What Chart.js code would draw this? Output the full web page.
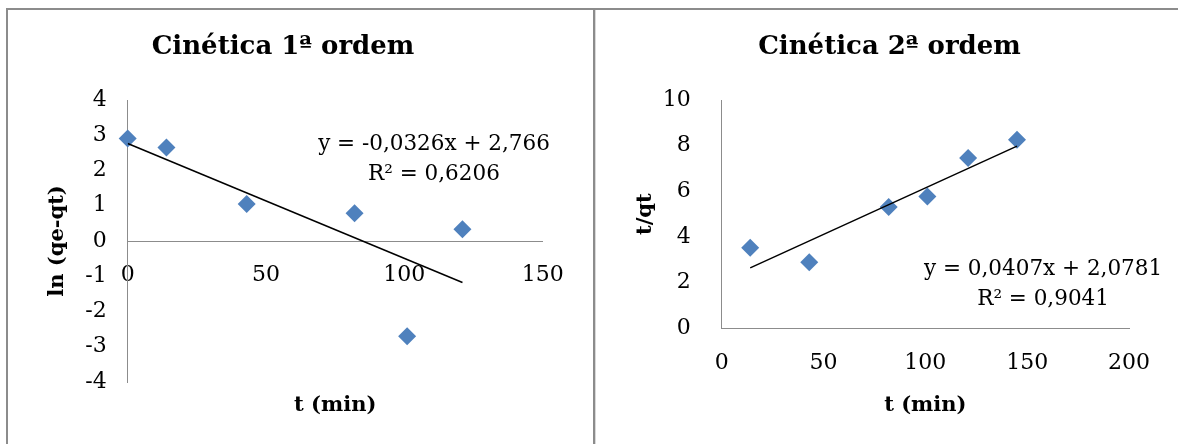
<!DOCTYPE html>
<html lang="pt">
<head>
<meta charset="utf-8">
<title>Cinética de adsorção</title>
<script src="https://cdn.jsdelivr.net/npm/chart.js@4.4.1/dist/chart.umd.min.js"></script>
<style>
  html, body { margin: 0; padding: 0; background: #fff; }
  body { width: 1178px; height: 444px; position: relative; overflow: hidden; }
  canvas { position: absolute; top: 0; }
  #c1 { left: 0; }
  #c2 { left: 601px; }
  .rule { position: absolute; background: #8c8c8c; }
  .rule.light { background: #d9d9d9; }
</style>
</head>
<body>
<canvas id="c1" width="566" height="444"></canvas>
<canvas id="c2" width="577" height="444"></canvas>
<div class="rule" style="left:6px; top:8px; width:1172px; height:2px;"></div>
<div class="rule" style="left:6px; top:8px; width:2px; height:436px;"></div>
<div class="rule" style="left:593px; top:8px; width:2px; height:436px;"></div>
<div class="rule light" style="left:595px; top:10px; width:1px; height:434px;"></div>
<script>
// Pseudo-primeira ordem: ln(qe - qt) versus t
const tempo1 = [0, 14, 43, 82, 101, 121];
const lnQeQt = [2.91, 2.65, 1.05, 0.79, -2.70, 0.33];
const ajuste1 = { inclinacao: -0.0326, intercepto: 2.766, r2: '0,6206' };
const eixoX1 = { min: 0, max: 150, passo: 50 };
const eixoY1 = { min: -4, max: 4, passo: 1 };

// Pseudo-segunda ordem: t/qt versus t
const tempo2 = [14, 43, 82, 101, 121, 145];
const tSobreQt = [3.53, 2.89, 5.31, 5.77, 7.46, 8.26];
const ajuste2 = { inclinacao: 0.0407, intercepto: 2.0781, r2: '0,9041' };
const eixoX2 = { min: 0, max: 200, passo: 50 };
const eixoY2 = { min: 0, max: 10, passo: 2 };

const SERIF = "'DejaVu Serif', 'Liberation Serif', serif";
const AZUL = '#4f81bd';
const CINZA = '#8c8c8c';

function pontos(xs, ys) { return xs.map((x, i) => ({ x, y: ys[i] })); }

function linhaTendencia(xs, aj) {
  const a = Math.min(...xs), b = Math.max(...xs);
  return [a, b].map(x => ({ x, y: aj.inclinacao * x + aj.intercepto }));
}

function num(v, casas) { return v.toFixed(casas).replace('.', ','); }

function textoEquacao(aj, casas) {
  const sinal = aj.intercepto < 0 ? '-' : '+';
  return ['y = ' + num(aj.inclinacao, 4) + 'x ' + sinal + ' ' + num(Math.abs(aj.intercepto), casas),
          'R² = ' + aj.r2];
}

// Writes the regression equation, anchored to a data position
const rotuloEquacao = {
  id: 'rotuloEquacao',
  afterDatasetsDraw(chart, args, opts) {
    const { ctx, scales } = chart;
    const x = scales.x.getPixelForValue(opts.x);
    const y = scales.y.getPixelForValue(opts.y);
    ctx.save();
    ctx.font = '21.5px ' + SERIF;
    ctx.fillStyle = '#000';
    ctx.textAlign = 'center';
    ctx.textBaseline = 'alphabetic';
    opts.linhas.forEach((t, i) => ctx.fillText(t, x, y + i * 30));
    ctx.restore();
  }
};

function dadosGrafico(xs, ys, aj) {
  return {
    datasets: [
      {
        type: 'line',
        data: linhaTendencia(xs, aj),
        borderColor: '#000',
        borderWidth: 1.5,
        pointRadius: 0,
        fill: false,
        order: 1
      },
      {
        type: 'scatter',
        data: pontos(xs, ys),
        pointStyle: 'rectRot',
        pointRadius: 9,
        pointHoverRadius: 9,
        backgroundColor: AZUL,
        borderColor: AZUL,
        borderWidth: 0,
        clip: false,
        order: 2
      }
    ]
  };
}

const fonteTicks = { family: SERIF, size: 22 };
const fonteTitulo = { family: SERIF, size: 21, weight: 'bold' };
const fonteGrafico = { family: SERIF, size: 26, weight: 'bold' };

// Empty right-hand box that leaves a margin beside the plot area
function margemDireita(largura) {
  return {
    type: 'linear',
    axis: 'y',
    position: 'right',
    display: true,
    ticks: { display: false },
    grid: { display: false, drawTicks: false },
    border: { display: false },
    afterFit(s) { s.width = largura; s.paddingTop = 0; s.paddingBottom = 0; }
  };
}

function semFolga(s) { s.paddingLeft = 0; s.paddingRight = 0; }

// Left chart: x axis crosses at y = 0
new Chart(document.getElementById('c1'), {
  type: 'scatter',
  data: dadosGrafico(tempo1, lnQeQt, ajuste1),
  plugins: [rotuloEquacao],
  options: {
    responsive: false,
    animation: false,
    events: [],
    layout: { padding: 0 },
    plugins: {
      legend: { display: false },
      tooltip: { enabled: false },
      title: {
        display: true,
        text: 'Cinética 1ª ordem',
        color: '#000',
        font: fonteGrafico,
        padding: { top: 31.4, bottom: 37.4 }
      },
      rotuloEquacao: { x: 110.7, y: 2.58, linhas: textoEquacao(ajuste1, 3) }
    },
    scales: {
      x: {
        type: 'linear',
        position: { y: 0 },
        min: eixoX1.min, max: eixoX1.max,
        ticks: { stepSize: eixoX1.passo, color: '#000', font: fonteTicks, padding: 21, maxRotation: 0 },
        grid: { display: false, drawTicks: false },
        border: { display: true, color: CINZA, width: 1 },
        afterFit(s) { s.height = 0; semFolga(s); }
      },
      xt: {
        type: 'linear',
        axis: 'x',
        position: 'bottom',
        min: eixoX1.min, max: eixoX1.max,
        ticks: { display: false },
        grid: { display: false, drawTicks: false },
        border: { display: false },
        title: { display: true, text: 't (min)', color: '#000', font: fonteTitulo, padding: { top: 0, bottom: 26 } },
        afterFit(s) { s.height = 62; semFolga(s); }
      },
      y: {
        type: 'linear',
        position: 'left',
        min: eixoY1.min, max: eixoY1.max,
        ticks: { stepSize: eixoY1.passo, color: '#000', font: fonteTicks, padding: 21 },
        grid: { display: false, drawTicks: false },
        border: { display: true, color: CINZA, width: 1 },
        title: { display: true, text: 'ln (qe-qt)', color: '#000', font: fonteTitulo, padding: { top: 45.4, bottom: 0 } },
        afterFit(s) { s.width = 127.7; }
      },
      margem: margemDireita(23.3)
    }
  }
});

// Right chart
new Chart(document.getElementById('c2'), {
  type: 'scatter',
  data: dadosGrafico(tempo2, tSobreQt, ajuste2),
  plugins: [rotuloEquacao],
  options: {
    responsive: false,
    animation: false,
    events: [],
    layout: { padding: 0 },
    plugins: {
      legend: { display: false },
      tooltip: { enabled: false },
      title: {
        display: true,
        text: 'Cinética 2ª ordem',
        color: '#000',
        font: fonteGrafico,
        padding: { top: 31.4, bottom: 37.4 }
      },
      rotuloEquacao: { x: 157.8, y: 2.34, linhas: textoEquacao(ajuste2, 4) }
    },
    scales: {
      x: {
        type: 'linear',
        position: 'bottom',
        min: eixoX2.min, max: eixoX2.max,
        ticks: { stepSize: eixoX2.passo, color: '#000', font: fonteTicks, padding: 22, maxRotation: 0 },
        grid: { display: false, drawTicks: false },
        border: { display: true, color: CINZA, width: 1 },
        title: { display: true, text: 't (min)', color: '#000', font: fonteTitulo, padding: { top: 0, bottom: 26 } },
        afterFit(s) { s.height = 115.7; semFolga(s); }
      },
      y: {
        type: 'linear',
        position: 'left',
        min: eixoY2.min, max: eixoY2.max,
        ticks: { stepSize: eixoY2.passo, color: '#000', font: fonteTicks, padding: 31 },
        grid: { display: false, drawTicks: false },
        border: { display: true, color: CINZA, width: 1 },
        title: { display: true, text: 't/qt', color: '#000', font: fonteTitulo, padding: { top: 32.4, bottom: 0 } },
        afterFit(s) { s.width = 120.7; }
      },
      margem: margemDireita(49)
    }
  }
});
</script>
</body>
</html>
